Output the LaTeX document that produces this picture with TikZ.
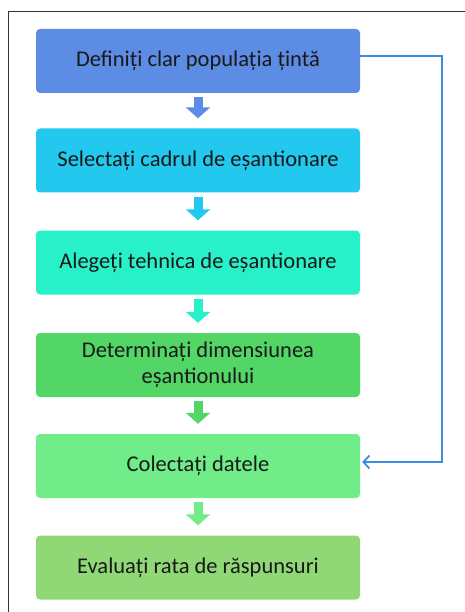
\documentclass[tikz,border=0pt]{standalone}
\usepackage{fontspec}
\setmainfont{Carlito}
\usetikzlibrary{arrows.meta}
\definecolor{c1}{RGB}{92,140,228}
\definecolor{c2}{RGB}{34,200,238}
\definecolor{c3}{RGB}{40,240,200}
\definecolor{c4}{RGB}{82,214,102}
\definecolor{c5}{RGB}{112,236,136}
\definecolor{c6}{RGB}{144,216,118}
\definecolor{cl}{RGB}{60,140,228}
\tikzset{
  stepbox/.style={rounded corners=4pt,minimum width=324pt,minimum height=64pt,align=center,font=\fontsize{22.5}{26}\selectfont,text=black!90},
  down/.style={line width=9pt,-{Triangle[width=24pt,length=11pt]},shorten <=4pt,shorten >=10pt}
}
\begin{document}
\begin{tikzpicture}[x=1pt,y=-1pt]
  \useasboundingbox (0,0) rectangle (464,612);
  \draw[black!80,line width=0.9pt] (8,11) rectangle (480,630);
  \node (1) at (198,61) [stepbox,fill=c1] {Definiți clar populația țintă};
  \node (2) at (198,160.5) [stepbox,fill=c2] {Selectați cadrul de eșantionare};
  \node (3) at (198,262.5) [stepbox,fill=c3] {Alegeți tehnica de eșantionare};
  \node (4) at (198,365) [stepbox,fill=c4] {Determinați dimensiunea\\eșantionului};
  \node (5) at (198,466) [stepbox,fill=c5] {Colectați datele};
  \node (6) at (198,567.5) [stepbox,fill=c6] {Evaluați rata de răspunsuri};
  \draw[down,c1] (1) to (2);
  \draw[down,c2] (2) to (3);
  \draw[down,c3] (3) to (4);
  \draw[down,c4] (4) to (5);
  \draw[down,c5] (5) to (6);
  \coordinate (r) at (442,56);
  \draw[cl,line width=1.8pt,-{Straight Barb[length=6pt,width=13pt]}] ([yshift=5pt]1.east) -- (r) |- ([yshift=4pt,xshift=2pt]5.east);
\end{tikzpicture}
\end{document}
